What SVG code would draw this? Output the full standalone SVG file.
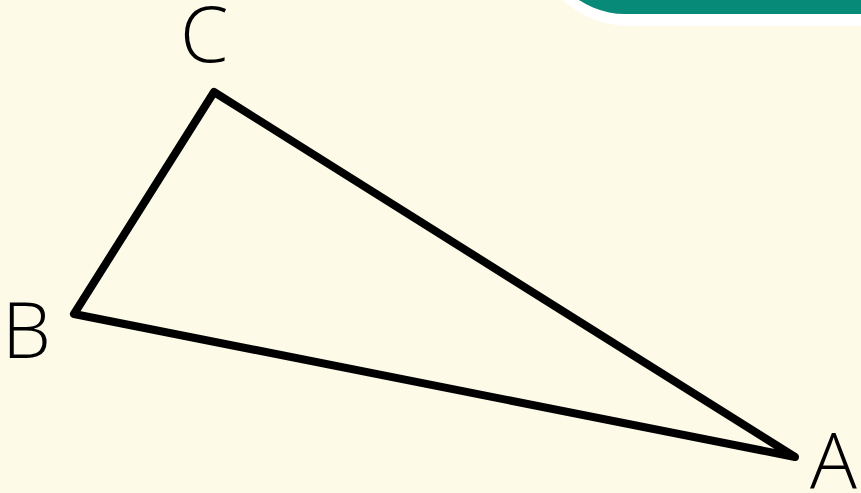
<svg xmlns="http://www.w3.org/2000/svg" width="861" height="493" viewBox="0 0 861 493">
<style>
.lbl{font-family:"Open Sans","Noto Sans",sans-serif;font-weight:300;font-size:78px;fill:#000}
</style>
<rect width="861" height="493" fill="#fdfae8"/>
<g id="banner">
<rect x="530" y="-200" width="500" height="226" rx="100" fill="#ffffff"/>
<rect x="543" y="-200" width="500" height="214" rx="82" fill="#088a79"/>
</g>
<g id="connectors">
<polygon points="214,92 74,314 795,457" fill="none" stroke="#000" stroke-width="8" stroke-linejoin="round"/>
</g>
<g id="C"><text class="lbl" x="180" y="62">C</text></g>
<g id="B"><text class="lbl" x="2" y="358">B</text></g>
<g id="A"><text class="lbl" x="810" y="489">A</text></g>
</svg>
